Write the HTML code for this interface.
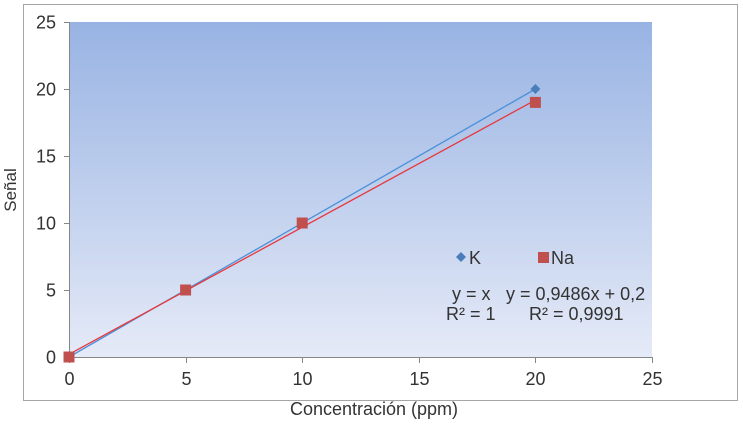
<!DOCTYPE html>
<html><head><meta charset="utf-8"><style>
body{margin:0;background:#fff;font-family:"Liberation Sans",Arial,sans-serif}
svg text{font-family:"Liberation Sans",Arial,sans-serif;fill:#333}
</style></head><body>
<svg id="chart" width="743" height="421" viewBox="0 0 743 421">
<defs><linearGradient id="bg" x1="0" y1="0" x2="0" y2="1">
<stop offset="0" stop-color="#98b3e3"/><stop offset="1" stop-color="#e5eaf7"/></linearGradient></defs>
<rect x="23.5" y="4.5" width="714" height="396" fill="#fff" stroke="#a6a6a6"/>
<rect x="69" y="22" width="583" height="335" fill="url(#bg)"/>
<g id="axes"></g>
<g id="marks"></g>
<text transform="translate(16,190) rotate(-90)" text-anchor="middle" font-size="17">Señal</text>
<text x="374" y="415" text-anchor="middle" font-size="18">Concentración (ppm)</text>
<g>
<path d="M461 252 l5 5 l-5 5 l-5 -5z" fill="#4a7ebb"/>
<text x="469" y="264" font-size="18">K</text>
<rect x="538" y="252" width="11" height="11" fill="#c0504d"/>
<text x="551" y="264" font-size="18">Na</text>
</g>
<text x="452" y="300" font-size="18">y = x</text>
<text x="446" y="320" font-size="18">R² = 1</text>
<text x="506" y="300" font-size="18">y = 0,9486x + 0,2</text>
<text x="529" y="320" font-size="18">R² = 0,9991</text>
</svg>
<script>
const xTicks=[0,5,10,15,20,25];
const yTicks=[0,5,10,15,20,25];
const concK=[0,5,10,20];
const signalK=[0,5,10,20];
const concNa=[0,5,10,20];
const signalNa=[0,5,10,19];
const naSlope=0.9486, naIntercept=0.2;
const X=v=>69+v*(583/25), Y=v=>357-v*(335/25);
const NS="http://www.w3.org/2000/svg";
const axes=document.getElementById('axes'), marks=document.getElementById('marks');
function mk(tag,attrs,parent){const e=document.createElementNS(NS,tag);for(const k in attrs)e.setAttribute(k,attrs[k]);parent.appendChild(e);return e;}
let e=mk('line',{x1:69.5,y1:22,x2:69.5,y2:357,stroke:'#868686'},axes);


e=mk('line',{x1:69,y1:357.5,x2:652,y2:357.5,stroke:'#868686'},axes);


yTicks.forEach(t=>{
 const y=Math.round(Y(t))+0.5;
 mk('line',{x1:64,y1:y,x2:69.5,y2:y,stroke:'#868686'},axes);
 const tx=mk('text',{x:56,y:y+6,'text-anchor':'end','font-size':18},axes);tx.textContent=t;
 
 
});
xTicks.forEach(t=>{
 const x=Math.round(X(t))+0.5;
 mk('line',{x1:x,y1:357,x2:x,y2:363,stroke:'#868686'},axes);
 const tx=mk('text',{x:x,y:385,'text-anchor':'middle','font-size':18},axes);tx.textContent=t;
 
 
});
e=mk('line',{x1:X(0),y1:Y(0),x2:X(20),y2:Y(20),stroke:'#4a90d9','stroke-width':1.3},marks);


e=mk('line',{x1:X(0),y1:Y(naIntercept),x2:X(20),y2:Y(naSlope*20+naIntercept),stroke:'#e8383d','stroke-width':1.3},marks);


concK.forEach((c,i)=>{
 const x=X(c),y=Y(signalK[i]);
 const p=mk('path',{d:`M${x} ${y-5} L${x+5} ${y} L${x} ${y+5} L${x-5} ${y}Z`,fill:'#4a7ebb'},marks);
 
 
});
concNa.forEach((c,i)=>{
 const x=X(c),y=Y(signalNa[i]);
 const r=mk('rect',{x:x-5.5,y:y-5.5,width:11,height:11,fill:'#c0504d'},marks);
 
 
});
</script>
</body></html>
